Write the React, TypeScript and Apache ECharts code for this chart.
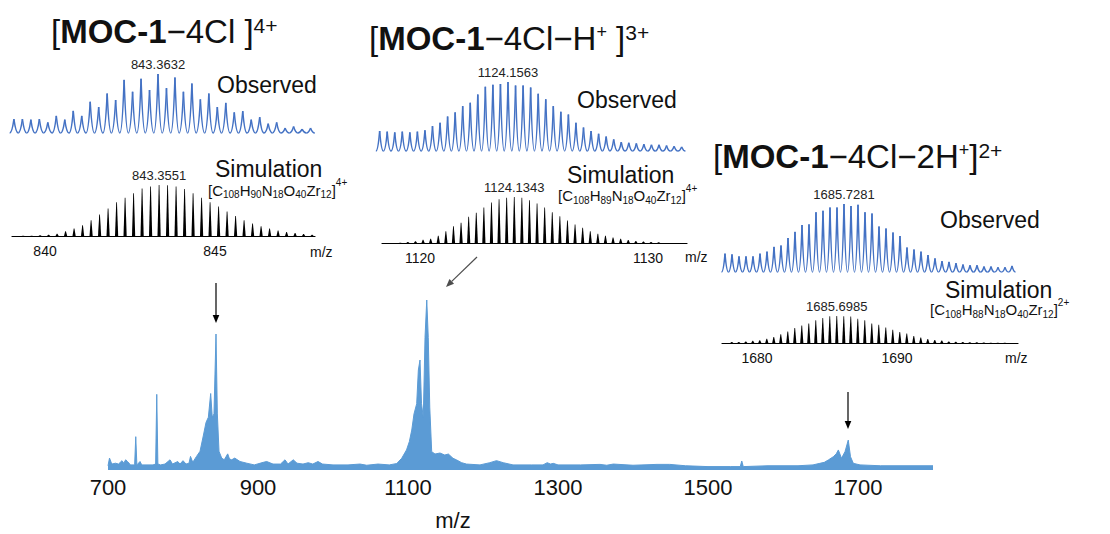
import React, { useEffect, useRef } from 'react';
import * as echarts from 'echarts';

const FONT = '"Liberation Sans", Arial, Helvetica, sans-serif';
const OBS_BLUE = '#4472c4';
const MAIN_BLUE = '#5b9bd5';
const INK = '#111111';

// ---------- full-range ESI-TOF-MS trace: [m/z, relative intensity %] ----------
const MAIN_TICKS = [700, 900, 1100, 1300, 1500, 1700];
const MAIN_SPECTRUM: [number, number][] = [
  [700, 2.5], [702, 7], [705, 3.5], [710, 4], [714, 3.5], [718.7, 5.5], [721, 4], [723.5, 6],
  [726, 5], [730, 3], [735.5, 3], [737, 19.6], [738.5, 3], [742.7, 5], [745, 3], [760, 3],
  [763.5, 3.5], [765, 44.5], [766.5, 3.5], [770, 3], [776, 3.5], [782.7, 6], [786, 3.5],
  [793, 5], [796, 3.5], [800, 5.5], [804, 3.5], [808, 4], [810, 8], [813, 4.5], [818, 8],
  [822.7, 11], [827, 20], [830.7, 28], [833.8, 31], [836.9, 45], [839, 31], [841.3, 33],
  [844, 80], [845.8, 33], [848, 11], [851.6, 7], [855, 6], [859.6, 9.5], [862, 6.5],
  [864.9, 6], [869, 7], [876, 5], [885, 4], [895, 3], [907, 4.5], [911.6, 5], [920, 3.5],
  [930, 3.5], [936, 6], [940, 3.5], [947, 6], [952, 4], [960, 3.5], [967, 4.3], [973, 3.5],
  [980, 5], [986, 3.5], [1000, 3], [1020, 3], [1036, 3.5], [1045, 2.8], [1060, 3.5],
  [1075, 3], [1085, 3.8], [1091.6, 6.9], [1098, 11.8], [1101.8, 16.7], [1105, 23.5],
  [1108, 33], [1111.6, 39], [1113.8, 58.8], [1116, 64.7], [1118, 39], [1120.4, 31],
  [1122.7, 78], [1125, 100], [1127, 78], [1129, 37], [1131.6, 10.8], [1136, 9.4],
  [1142.7, 10], [1149, 8.8], [1153.8, 9.4], [1160, 6.9], [1164.9, 5.9], [1171.6, 4.3],
  [1178, 3.5], [1196, 3], [1209, 4.3], [1218, 5.5], [1227, 4.3], [1240, 3], [1265, 3],
  [1280, 3], [1285.6, 4.3], [1290, 3.5], [1293.8, 3.9], [1300, 3], [1330, 3], [1356, 3.3],
  [1365, 2.8], [1373.8, 3.5], [1400, 2.8], [1432, 3.3], [1449, 3.3], [1470, 2.5], [1500, 2],
  [1530, 2], [1543, 2], [1545, 5.3], [1547, 2], [1580, 2.5], [1620, 2.5], [1640, 3],
  [1649, 3.9], [1655, 4.5], [1660.4, 5.9], [1667, 7.8], [1671, 9.5], [1673.8, 11.8],
  [1678, 6.9], [1682.7, 10.8], [1687, 17.6], [1690, 7.8], [1693.8, 3.9], [1702.7, 3],
  [1730, 2.5], [1756, 2.5], [1780, 2.5], [1800, 2.5],
];

// ---------- isotope envelopes, relative intensity (%) per isotope peak ----------
// [MOC-1−4Cl]4+  (isotope spacing 1/4)
const OBS_4_APEX = 843.3632;
const OBS_4_FIRST = -17;
const OBS_4 = [23.6, 23.6, 22.5, 23.6, 18, 29, 22.5, 37.6, 29, 53, 44, 67, 56, 90, 70, 92, 73, 100,
  76, 94, 70, 84, 57, 67, 44, 51, 35, 37, 22.5, 27, 16, 18, 8.4, 11, 6.7, 8.4];
const SIM_4_APEX = 843.3551;
const SIM_4_FIRST = -16;
const SIM_4 = [0.7, 0.7, 1.3, 2.6, 4.6, 9.3, 14.6, 21, 31, 42, 54, 66, 75, 84, 93, 97, 100,
  99.6, 97, 92, 84, 75, 66, 58, 48, 39, 31, 24.5, 19, 14.6, 11, 8, 6, 4, 2.6];
const TICKS_4 = [840, 845];

// [MOC-1−4Cl−H+]3+  (isotope spacing 1/3)
const OBS_3_APEX = 1124.1563;
const OBS_3_FIRST = -17;
const OBS_3 = [29, 28, 27, 28, 27, 28, 30, 36, 41, 50, 56, 65, 70, 82, 93, 96, 97, 100, 95, 95,
  92, 83, 75, 65, 57, 53, 41, 34, 29, 25, 21, 17, 13, 12, 11, 10, 9, 9, 8, 7, 6];
const SIM_3_APEX = 1124.1343;
const SIM_3_FIRST = -15;
const SIM_3 = [0.7, 2.2, 3.6, 7.3, 9.5, 16, 25.5, 36.5, 44, 57, 66, 77, 88, 95, 98.5, 100,
  98.5, 93, 86, 77, 67, 58, 49, 40, 33, 25.5, 20, 16, 12, 9, 6.6, 4.4, 3, 2.2, 1.5];
const TICKS_3 = [1120, 1130];

// [MOC-1−4Cl−2H+]2+  (isotope spacing 1/2)
const OBS_2_APEX = 1685.7281;
const OBS_2_FIRST = -17;
const OBS_2 = [27, 26, 23, 23, 23, 27, 30, 37, 39, 50, 59, 69, 70, 88, 90, 95, 95, 100, 97, 99,
  88, 86, 67, 64, 58, 53, 36, 33, 30, 25, 20, 16, 15, 13, 11, 10, 10, 8, 8, 7, 7, 9];
const SIM_2_APEX = 1685.6985;
const SIM_2_FIRST = -15;
const SIM_2 = [3.7, 3.7, 6, 8.6, 10, 16, 22, 32, 43, 56, 65, 72, 84, 93, 99, 100, 99, 98, 90,
  84, 72, 68, 57, 49, 41, 35, 26, 20, 15, 11, 9, 6, 5, 4, 2.5, 2.5, 2, 1.2, 1.2, 1.2];
const TICKS_2 = [1680, 1690];

// isotope peak list: position from the apex and the charge-state spacing
function peaks(apex: number, first: number, step: number, values: number[]): number[][] {
  return values.map((v, i) => [apex + (first + i) * step, v]);
}

function peakLabel(pt: number[], m: number) {
  return {
    type: 'text',
    x: pt[0],
    y: pt[1] - 3,
    style: {
      text: m.toFixed(4),
      fontSize: 13,
      fontFamily: FONT,
      fill: '#222',
      align: 'center',
      verticalAlign: 'bottom',
    },
  };
}

// observed profile: each isotope peak is a sharp crest between rounded valleys
function observedRenderer(step: number, apexIdx: number) {
  return (params: any, api: any) => {
    const m = api.value(0) as number;
    const h = api.value(1) as number;
    const top = api.coord([m, h]);
    const l = api.coord([m - step / 2, 0]);
    const r = api.coord([m + step / 2, 0]);
    const y0 = l[1];
    const dl = top[0] - l[0];
    const dr = r[0] - top[0];
    const rise = y0 - top[1];
    const st = { stroke: OBS_BLUE, lineWidth: 1.5, fill: 'none' };
    const children: any[] = [
      {
        type: 'bezierCurve',
        shape: {
          x1: l[0], y1: y0, cpx1: l[0] + dl * 0.6, cpy1: y0,
          cpx2: top[0] - dl * 0.1, cpy2: top[1] + rise * 0.2, x2: top[0], y2: top[1],
        },
        style: st,
      },
      {
        type: 'bezierCurve',
        shape: {
          x1: top[0], y1: top[1], cpx1: top[0] + dr * 0.1, cpy1: top[1] + rise * 0.2,
          cpx2: r[0] - dr * 0.6, cpy2: y0, x2: r[0], y2: y0,
        },
        style: st,
      },
    ];
    if (params.dataIndex === apexIdx) children.push(peakLabel(top, m));
    return { type: 'group', children };
  };
}

// simulated pattern: thin black sticks
function simulatedRenderer(apexIdx: number) {
  return (params: any, api: any) => {
    const m = api.value(0) as number;
    const h = api.value(1) as number;
    const top = api.coord([m, h]);
    const base = api.coord([m, 0]);
    const children: any[] = [
      {
        type: 'polygon',
        shape: {
          points: [
            [base[0] - 1.6, base[1]],
            [top[0] - 0.35, top[1]],
            [top[0] + 0.35, top[1]],
            [base[0] + 1.6, base[1]],
          ],
        },
        style: { fill: '#000' },
      },
    ];
    if (params.dataIndex === apexIdx) children.push(peakLabel(top, m));
    return { type: 'group', children };
  };
}

type Panel = {
  grid: { left: number; top: number; width: number; height: number };
  range: [number, number];
  kind: 'obs' | 'sim';
  data: number[][];
  step: number;
  apexIdx: number;
  ticks?: number[];
};

const PANELS: Panel[] = [
  { grid: { left: 10, top: 74, width: 310, height: 59 }, range: [838.9974, 848.1419], kind: 'obs',
    data: peaks(OBS_4_APEX, OBS_4_FIRST, 0.25, OBS_4), step: 0.25, apexIdx: -OBS_4_FIRST },
  { grid: { left: 12, top: 185, width: 303, height: 51 }, range: [839.029, 847.941], kind: 'sim',
    data: peaks(SIM_4_APEX, SIM_4_FIRST, 0.25, SIM_4), step: 0.25, apexIdx: -SIM_4_FIRST, ticks: TICKS_4 },
  { grid: { left: 378, top: 82, width: 310, height: 69 }, range: [1118.4168, 1132.1033], kind: 'obs',
    data: peaks(OBS_3_APEX, OBS_3_FIRST, 1 / 3, OBS_3), step: 1 / 3, apexIdx: -OBS_3_FIRST },
  { grid: { left: 382, top: 197, width: 305, height: 46 }, range: [1118.333, 1131.711], kind: 'sim',
    data: peaks(SIM_3_APEX, SIM_3_FIRST, 1 / 3, SIM_3), step: 1 / 3, apexIdx: -SIM_3_FIRST, ticks: TICKS_3 },
  { grid: { left: 718, top: 204, width: 304, height: 68 }, range: [1676.7281, 1698.4424], kind: 'obs',
    data: peaks(OBS_2_APEX, OBS_2_FIRST, 0.5, OBS_2), step: 0.5, apexIdx: -OBS_2_FIRST },
  { grid: { left: 722, top: 316, width: 296, height: 27 }, range: [1677.5, 1698.643], kind: 'sim',
    data: peaks(SIM_2_APEX, SIM_2_FIRST, 0.5, SIM_2), step: 0.5, apexIdx: -SIM_2_FIRST, ticks: TICKS_2 },
];

// ion titles: bold "MOC-1", superscript charges
const titleRich = {
  n: { fontSize: 33, fontFamily: FONT, verticalAlign: 'top', fill: INK },
  b: { fontSize: 33, fontFamily: FONT, fontWeight: 'bold', verticalAlign: 'top', fill: INK },
  p: { fontSize: 21, fontFamily: FONT, verticalAlign: 'top', fill: INK },
  q: { fontSize: 18, fontFamily: FONT, verticalAlign: 'top', padding: [1, 0, 0, 0], fill: INK },
};

// molecular formulas: subscripts pushed down, charge raised
const formulaRich = {
  n: { fontSize: 15, fontFamily: FONT, verticalAlign: 'top', padding: [5, 0, 0, 0], fill: INK },
  s: { fontSize: 10, fontFamily: FONT, verticalAlign: 'top', padding: [12, 0, 0, 0], fill: INK },
  p: { fontSize: 10, fontFamily: FONT, verticalAlign: 'top', padding: [0, 0, 0, 0], fill: INK },
};

function richText(x: number, y: number, text: string, rich: any) {
  return { type: 'text', x, y, silent: true, style: { text, rich, align: 'left', verticalAlign: 'top' } };
}

function plainText(x: number, y: number, text: string, size: number, align = 'left') {
  return {
    type: 'text', x, y, silent: true,
    style: { text, fontSize: size, fontFamily: FONT, fill: INK, align, verticalAlign: 'middle' },
  };
}

function arrow(x1: number, y1: number, x2: number, y2: number, color: string) {
  const len = Math.hypot(x2 - x1, y2 - y1);
  const ux = (x2 - x1) / len;
  const uy = (y2 - y1) / len;
  const hl = 8;
  const hw = 3.3;
  const bx = x2 - ux * hl;
  const by = y2 - uy * hl;
  return [
    { type: 'line', silent: true, shape: { x1, y1, x2: bx, y2: by }, style: { stroke: color, lineWidth: 1.2 } },
    {
      type: 'polygon', silent: true,
      shape: { points: [[x2, y2], [bx - uy * hw, by + ux * hw], [bx + uy * hw, by - ux * hw]] },
      style: { fill: color },
    },
  ];
}

function buildOption(): any {
  const grids: any[] = PANELS.map((p) => ({ ...p.grid, containLabel: false, outerBoundsMode: 'none' }));
  grids.push({ left: 108, top: 300, width: 825, height: 170, containLabel: false, outerBoundsMode: 'none' });

  const xAxes: any[] = PANELS.map((p, i) => ({
    type: 'value',
    gridIndex: i,
    min: p.range[0],
    max: p.range[1],
    show: p.kind === 'sim',
    axisLine: { show: true, onZero: false, lineStyle: { color: '#000', width: 1.2 } },
    axisTick: { show: false },
    splitLine: { show: false },
    axisLabel: {
      customValues: p.ticks,
      fontSize: 14,
      fontFamily: FONT,
      color: INK,
      margin: 8,
      formatter: (v: number) => String(v),
    },
  }));
  xAxes.push({
    type: 'value',
    gridIndex: 6,
    min: 700,
    max: 1800,
    axisLine: { show: false },
    axisTick: { show: false },
    splitLine: { show: false },
    axisLabel: {
      customValues: MAIN_TICKS,
      fontSize: 22,
      fontFamily: FONT,
      color: INK,
      margin: 6,
      formatter: (v: number) => String(v),
    },
  });

  const yAxes: any[] = PANELS.map((_, i) => ({ type: 'value', gridIndex: i, min: 0, max: 100, show: false }));
  yAxes.push({ type: 'value', gridIndex: 6, min: 0, max: 100, show: false });

  const series: any[] = PANELS.map((p, i) => ({
    type: 'custom',
    xAxisIndex: i,
    yAxisIndex: i,
    coordinateSystem: 'cartesian2d',
    clip: false,
    silent: true,
    encode: { x: 0, y: 1 },
    data: p.data,
    renderItem: p.kind === 'obs' ? observedRenderer(p.step, p.apexIdx) : simulatedRenderer(p.apexIdx),
  }));
  series.push({
    type: 'line',
    xAxisIndex: 6,
    yAxisIndex: 6,
    data: MAIN_SPECTRUM,
    symbol: 'none',
    silent: true,
    lineStyle: { color: MAIN_BLUE, width: 1 },
    itemStyle: { color: MAIN_BLUE },
    areaStyle: { color: MAIN_BLUE, opacity: 1 },
  });

  const elements: any[] = [
    richText(51, 15, '{n|[}{b|MOC-1}{n|−4Cl ]}{p|4+}', titleRich),
    richText(369, 21.5, '{n|[}{b|MOC-1}{n|−4Cl−H}{q|+}{n| ]}{p|3+}', titleRich),
    richText(713, 140, '{n|[}{b|MOC-1}{n|−4Cl−2H}{q|+}{n|]}{p|2+}', titleRich),

    plainText(217, 85, 'Observed', 23),
    plainText(577, 100, 'Observed', 23),
    plainText(940, 220, 'Observed', 23),
    plainText(215, 169, 'Simulation', 23),
    plainText(567, 174.5, 'Simulation', 23),
    plainText(945, 290, 'Simulation', 23),

    richText(208, 177.5, '{n|[C}{s|108}{n|H}{s|90}{n|N}{s|18}{n|O}{s|40}{n|Zr}{s|12}{n|]}{p|4+}', formulaRich),
    richText(558, 183, '{n|[C}{s|108}{n|H}{s|89}{n|N}{s|18}{n|O}{s|40}{n|Zr}{s|12}{n|]}{p|4+}', formulaRich),
    richText(930, 297, '{n|[C}{s|108}{n|H}{s|88}{n|N}{s|18}{n|O}{s|40}{n|Zr}{s|12}{n|]}{p|2+}', formulaRich),

    plainText(310, 252, 'm/z', 14),
    plainText(685, 257, 'm/z', 14),
    plainText(1005, 358, 'm/z', 14),
    plainText(453, 520, 'm/z', 22, 'center'),

    ...arrow(216, 283, 216, 323, '#000'),
    ...arrow(477, 257, 446, 287, '#4d4d4d'),
    ...arrow(848, 392, 848, 429, '#000'),
  ];

  return {
    animation: false,
    backgroundColor: '#ffffff',
    textStyle: { fontFamily: FONT },
    grid: grids,
    xAxis: xAxes,
    yAxis: yAxes,
    series,
    graphic: { elements },
  };
}

export default function App() {
  const ref = useRef<HTMLDivElement>(null);
  useEffect(() => {
    if (!ref.current) return;
    const chart = echarts.init(ref.current, null, { renderer: 'svg' });
    chart.setOption(buildOption());
    return () => chart.dispose();
  }, []);
  return (
    <div
      ref={ref}
      style={{ position: 'fixed', left: 0, top: 0, width: 1110, height: 534, background: '#fff' }}
    />
  );
}
